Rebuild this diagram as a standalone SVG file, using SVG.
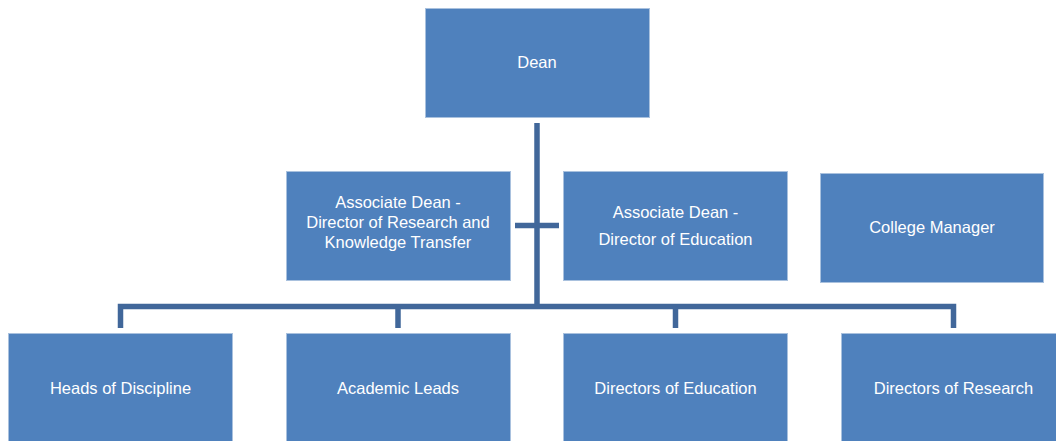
<svg xmlns="http://www.w3.org/2000/svg" width="1056" height="441" viewBox="0 0 1056 441">
<style>
.box{fill:#4f81bd;stroke:#a9c1de;stroke-width:1}
.lbl{fill:#ffffff;font-family:"Liberation Sans",Arial,sans-serif;font-size:16.5px;text-anchor:middle}
.conn{fill:none;stroke:#41679a;stroke-width:5.5}
</style>
<rect width="1056" height="441" fill="#ffffff"/>
<g id="connectors">
<path class="conn" d="M537,123 V309"/>
<path class="conn" d="M515,225.5 H559"/>
<path class="conn" d="M120.5,328 V306.5 H953.5 V328"/>
<path class="conn" d="M398,306.5 V328"/>
<path class="conn" d="M675.5,306.5 V328"/>
</g>
<g id="dean"><rect class="box" x="425.5" y="8.5" width="224" height="109"/><text class="lbl" x="537" y="68">Dean</text></g>
<g id="assoc-research"><rect class="box" x="286.5" y="171.5" width="224" height="109"/><text class="lbl" x="398" y="208">Associate Dean -</text><text class="lbl" x="398" y="228">Director of Research and</text><text class="lbl" x="398" y="248">Knowledge Transfer</text></g>
<g id="assoc-education"><rect class="box" x="563.5" y="171.5" width="224" height="109"/><text class="lbl" x="675.5" y="218">Associate Dean -</text><text class="lbl" x="675.5" y="245">Director of Education</text></g>
<g id="college-manager"><rect class="box" x="820.5" y="173.5" width="223" height="109"/><text class="lbl" x="932" y="233">College Manager</text></g>
<g id="heads-discipline"><rect class="box" x="8.5" y="333.5" width="224" height="115"/><text class="lbl" x="120.5" y="394">Heads of Discipline</text></g>
<g id="academic-leads"><rect class="box" x="286.5" y="333.5" width="224" height="115"/><text class="lbl" x="398" y="394">Academic Leads</text></g>
<g id="directors-education"><rect class="box" x="563.5" y="333.5" width="224" height="115"/><text class="lbl" x="675.5" y="394">Directors of Education</text></g>
<g id="directors-research"><rect class="box" x="841.5" y="333.5" width="224" height="115"/><text class="lbl" x="953.5" y="394">Directors of Research</text></g>
</svg>
